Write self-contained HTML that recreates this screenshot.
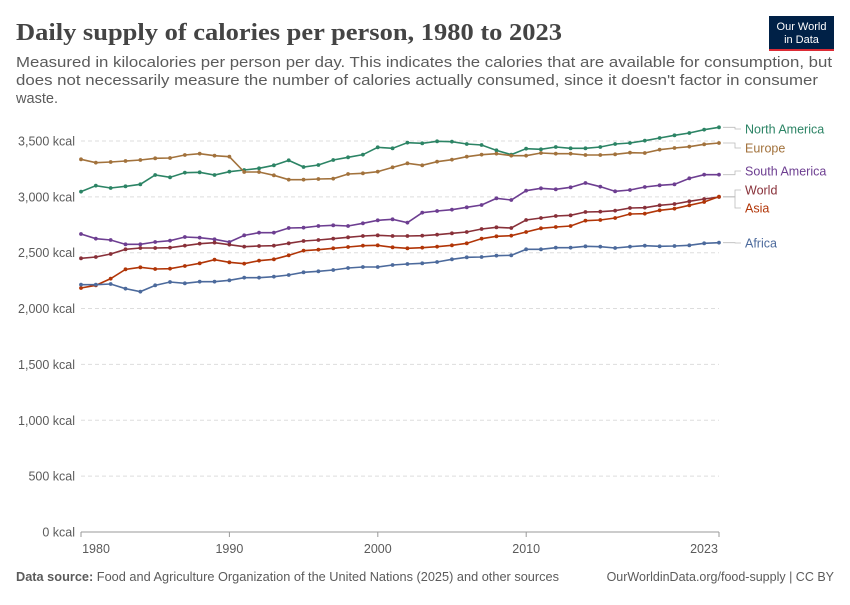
<!DOCTYPE html>
<html><head><meta charset="utf-8"><style>
body{margin:0;background:#fff;width:850px;height:600px;overflow:hidden;font-family:"Liberation Sans",sans-serif}
</style></head><body>
<svg id="s" width="850" height="600" xmlns="http://www.w3.org/2000/svg" font-family="Liberation Sans, sans-serif">
<text x="16" y="40" font-family="Liberation Serif, serif" font-size="24" font-weight="bold" fill="#444" textLength="546" lengthAdjust="spacingAndGlyphs">Daily supply of calories per person, 1980 to 2023</text>
<text font-size="14.5" fill="#5b5b5b"><tspan x="16" y="67" textLength="816" lengthAdjust="spacingAndGlyphs">Measured in kilocalories per person per day. This indicates the calories that are available for consumption, but</tspan><tspan x="16" y="85" textLength="802" lengthAdjust="spacingAndGlyphs">does not necessarily measure the number of calories actually consumed, since it doesn't factor in consumer</tspan><tspan x="16" y="103" textLength="42" lengthAdjust="spacingAndGlyphs">waste.</tspan></text>
<rect x="769" y="16" width="65" height="35" fill="#002147"/><rect x="769" y="49" width="65" height="2" fill="#dc2b35"/>
<text x="801.5" y="30" font-size="11" fill="#fff" text-anchor="middle">Our World</text>
<text x="801.5" y="43" font-size="11" fill="#fff" text-anchor="middle">in Data</text>
<g id="grid"></g>
<g id="series"></g>
<line x1="81" y1="532" x2="719" y2="532" stroke="#999"/>
<g stroke="#999"><line x1="81" y1="532" x2="81" y2="537"/><line x1="229.4" y1="532" x2="229.4" y2="537"/><line x1="377.8" y1="532" x2="377.8" y2="537"/><line x1="526.2" y1="532" x2="526.2" y2="537"/><line x1="719" y1="532" x2="719" y2="537"/></g>
<g font-size="12.5" fill="#5b5b5b" text-anchor="middle"><text x="96" y="553">1980</text><text x="229.4" y="553">1990</text><text x="377.8" y="553">2000</text><text x="526.2" y="553">2010</text><text x="704" y="553">2023</text></g>
<text x="16" y="581" font-size="12.5" fill="#5b5b5b" textLength="543" lengthAdjust="spacingAndGlyphs"><tspan font-weight="bold">Data source:</tspan> Food and Agriculture Organization of the United Nations (2025) and other sources</text>
<text x="834" y="581" font-size="12.5" fill="#5b5b5b" text-anchor="end">OurWorldinData.org/food-supply | CC BY</text>
</svg>
<script>
const ns="http://www.w3.org/2000/svg";
function el(p,t,a){const e=document.createElementNS(ns,t);for(const k in a)e.setAttribute(k,a[k]);p.appendChild(e);return e;}
const g=document.getElementById('grid');
const labs=["0 kcal","500 kcal","1,000 kcal","1,500 kcal","2,000 kcal","2,500 kcal","3,000 kcal","3,500 kcal"];
for(let i=0;i<8;i++){const y=532-i*55.86;
 if(i>0)el(g,'line',{x1:81,x2:719,y1:y,y2:y,stroke:'#ddd','stroke-dasharray':'4,3'});
 const t=el(g,'text',{x:75,y:y+4.5,'font-size':12.5,fill:'#5b5b5b','text-anchor':'end'});t.textContent=labs[i];}
const S=[
["North America","#2c8465",[245,227,234,229,223,195,202,188,187,195,185,180,175,166,151,171,165,150,142,134,112],[115,98,100,94,95,102,105,121,134,116,118,111,115,115,111,102,99,92,84,76,69,59,52],129],
["Europe","#a2723c",[148,158,156,153,150,145,144,135,131,137,140,186,186,196,209,209,207,206,192,190,185],[172,160,166,155,149,140,134,131,137,137,129,131,131,135,135,133,128,129,119,114,110,103,99],148],
["South America","#6d3e91",[372,386,390,403,403,396,392,381,383,388,396,376,368,368,354,353,348,346,348,340,331],[328,338,308,303,299,292,285,265,270,242,235,238,232,219,230,244,240,231,226,223,205,194,194],171],
["World","#883039",[445,441,432,418,414,414,413,407,401,398,404,410,408,407,400,393,390,386,382,378,376],[378,378,377,374,370,366,357,352,354,330,324,318,316,306,305,302,294,293,286,282,274,267,261],190],
["Asia","#b13507",[534,526,506,478,472,477,476,468,460,449,457,461,452,448,436,422,419,415,411,407,406],[412,415,413,410,406,400,386,379,377,366,355,351,348,332,330,324,312,311,301,296,286,276,260],208],
["Africa","#4c6a9c",[524,524,522,536,545,526,516,520,515,515,511,503,503,500,495,487,484,480,474,471,471],[465,462,460,456,448,442,441,437,436,418,418,413,413,409,410,414,410,407,409,408,406,400,398],243]];
const sg=document.getElementById('series');
S.forEach(s=>{const z=s[2].concat(s[3]);const pts=z.map((v,i)=>[81+i*14.837,110+v/3]);
 el(sg,'polyline',{points:pts.map(p=>p.join(',')).join(' '),fill:'none',stroke:s[1],'stroke-width':1.6});
 pts.forEach(p=>el(sg,'circle',{cx:p[0],cy:p[1],r:1.9,fill:s[1]}));
 const ly=pts[pts.length-1][1];
 el(sg,'polyline',{points:`723,${ly} 735,${ly} 735,${s[4]} 741,${s[4]}`,fill:'none',stroke:'#bbb','stroke-width':0.8});
 const t=el(sg,'text',{x:745,y:s[4]+4.5,'font-size':12.5,fill:s[1]});t.textContent=s[0];});
</script>
</body></html>
